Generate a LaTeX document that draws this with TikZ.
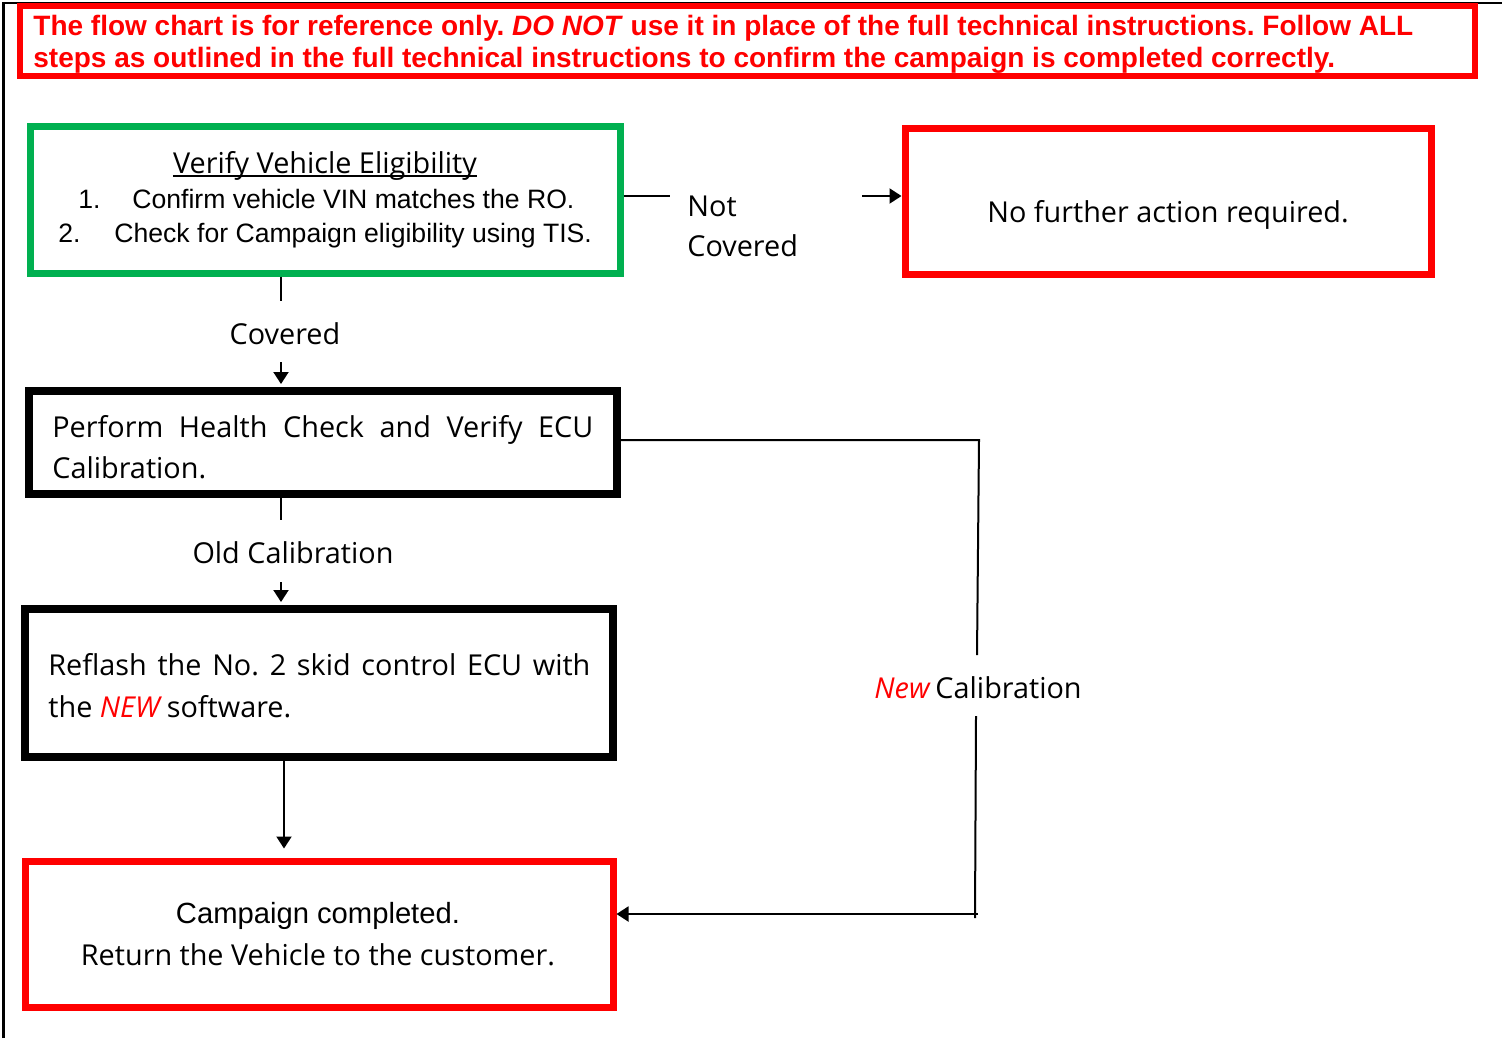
\documentclass[tikz,border=0pt]{standalone}
\usepackage{fontspec}
\setmainfont{Open Sans}
\newfontfamily\arial{Liberation Sans}
\usetikzlibrary{arrows.meta}
\definecolor{gr}{RGB}{0,176,80}
\definecolor{rd}{RGB}{255,0,0}
\begin{document}
\frenchspacing
\begin{tikzpicture}[x=0.5pt,y=-0.5pt,
  box/.style={draw, line width=3.5pt, inner sep=0pt},
  conn/.style={line width=1pt},
  arr/.style={conn, -{Triangle[length=6pt,width=7.5pt]}},
  th/.style={font=\fontsize{14.4}{16}\selectfont, inner sep=0pt},
  ar/.style={font=\arial\fontsize{13.3}{15}\selectfont, inner sep=0pt},
  ban/.style={font=\arial\bfseries\fontsize{14}{16}\selectfont, text=rd, inner sep=0pt}]
\useasboundingbox (0,0) rectangle (1502,1038);
% page frame
\draw[line width=1.4pt] (3.5,1038) -- (3.5,3) -- (1502,3);
% banner
\node[draw=rd, line width=3pt, inner sep=0pt, minimum width=727.75pt, minimum height=35pt] (banner) at (747.25,41.5) {};
\node[ban, anchor=base west] (b1) at (33,36) {The flow chart is for reference only. \textit{DO NOT} use it in place of the full technical instructions. Follow ALL};
\node[ban, anchor=base west] (b2) at (33,68) {steps as outlined in the full technical instructions to confirm the campaign is completed correctly.};
% boxes
\node[box, draw=gr, minimum width=295pt, minimum height=73.5pt] (elig) at (325,199.5) {};
\node[box, draw=rd, minimum width=263pt, minimum height=73pt] (nfa) at (1168,201) {};
\node[box, draw=black, line width=4pt, minimum width=294pt, minimum height=51.5pt] (health) at (323,442.5) {};
\node[box, draw=black, line width=4pt, minimum width=294pt, minimum height=74pt] (reflash) at (319,683) {};
\node[box, draw=rd, minimum width=294pt, minimum height=73pt] (camp) at (319,934) {};
% texts
\node[th, anchor=base] (title) at (325,173) {Verify Vehicle Eligibility};
\draw[line width=0.8pt] ([yshift=-1.5pt]title.base west) -- ([yshift=-1.5pt]title.base east);
\node[ar, anchor=base west] (n1) at (78,208) {1.};
\node[ar, anchor=base west] (t1) at (132,208) {Confirm vehicle VIN matches the RO.};
\node[ar, anchor=base west] (n2) at (58,242) {2.};
\node[ar, anchor=base west] (t2) at (114,242) {Check for Campaign eligibility using TIS.};
\node[th, anchor=center] (nfat) at (1168,215) {No further action required.};
\node[th, anchor=base west] (hl1) at (52,437) {\makebox[270.5pt][s]{Perform Health Check and Verify ECU}};
\node[th, anchor=base west] (hl2) at (52,478) {Calibration.};
\node[th, anchor=base west] (rl1) at (48,675) {\makebox[271pt][s]{Reflash the No. 2 skid control ECU with}};
\node[th, anchor=base west] (rl2) at (48,717) {the \textcolor{rd}{\textit{NEW}}\,software.};
\node[ar, font=\arial\fontsize{14.6}{16}\selectfont, anchor=base] (ct1) at (318,923) {Campaign completed.};
\node[th, anchor=base] (ct2) at (318,965) {Return the Vehicle to the customer.};
% labels
\node[th, anchor=base west] (nc1) at (687,216) {Not};
\node[th, anchor=base west] (nc2) at (687,256) {Covered};
\node[th] (cov) at (285,334) {Covered};
\node[th] (old) at (293,553) {Old Calibration};
\node[th] (newc) at (978,688) {\textcolor{rd}{\textit{New}}\,Calibration};
% connectors
\coordinate (a1) at (670,196);
\coordinate (a2) at (862,196);
\draw[conn] (elig.east |- a1) -- (a1);
\draw[arr] (a2) -- (nfa.west |- a2);
\coordinate (c1) at (281,301);
\coordinate (c2) at (281,362);
\draw[conn] (elig.south -| c1) -- (c1);
\draw[arr, shorten >=1.5pt] (c2) -- (health.north -| c2);
\coordinate (d1) at (281,520);
\coordinate (d2) at (281,582);
\draw[conn] (health.south -| d1) -- (d1);
\draw[arr, shorten >=1.5pt] (d2) -- (reflash.north -| d2);
\coordinate (e1) at (284,760);
\draw[arr, shorten >=4.5pt] (reflash.south -| e1) -- (camp.north -| e1);
\coordinate (r1) at (979,440);
\coordinate (r2) at (977,655);
\coordinate (r3) at (976,716);
\coordinate (r4) at (975,918);
\coordinate (r5) at (978,914);
\draw[conn] (health.east |- r1) -- (r1) -- (r2);
\draw[conn] (r3) -- (r4);
\draw[arr] (r5) -- (camp.east |- r5);
\end{tikzpicture}
\end{document}
